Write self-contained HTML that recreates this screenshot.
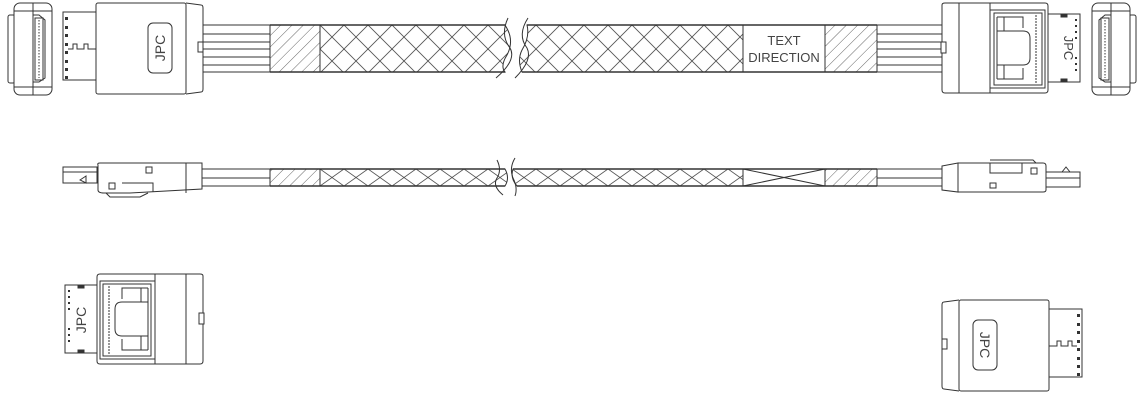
<!DOCTYPE html>
<html><head><meta charset="utf-8"><style>
html,body{margin:0;padding:0;background:#fff;}
svg{display:block;}
text{font-family:"Liberation Sans",sans-serif;fill:#444;}
</style></head><body>
<svg width="1147" height="400" viewBox="0 0 1147 400" xmlns="http://www.w3.org/2000/svg">
<defs>
<pattern id="hatch" width="8" height="8" patternUnits="userSpaceOnUse" patternTransform="rotate(45)">
<line x1="0" y1="0" x2="0" y2="8" stroke="#555" stroke-width="0.9"/>
</pattern>
<pattern id="xh" x="320" y="25" width="24" height="24" patternUnits="userSpaceOnUse">
<line x1="0" y1="0" x2="24" y2="24" stroke="#555" stroke-width="0.9"/>
<line x1="24" y1="0" x2="0" y2="24" stroke="#555" stroke-width="0.9"/>
</pattern>
<pattern id="xh2" x="320" y="169" width="24" height="17" patternUnits="userSpaceOnUse">
<line x1="0" y1="0" x2="24" y2="17" stroke="#555" stroke-width="0.9"/>
<line x1="24" y1="0" x2="0" y2="17" stroke="#555" stroke-width="0.9"/>
</pattern>
<g id="connA" fill="none" stroke="#333" stroke-width="1">
<rect x="63" y="12" width="33" height="68" fill="#fff"/>
<g fill="#333" stroke="none">
<rect x="65" y="17" width="3" height="3"/><rect x="65" y="26" width="3" height="3"/><rect x="65" y="34" width="3" height="3"/>
<rect x="65" y="43" width="3" height="3"/><rect x="65" y="51" width="3" height="3"/><rect x="65" y="60" width="3" height="3"/>
<rect x="65" y="68" width="3" height="3"/><rect x="65" y="76" width="3" height="3"/>
</g>
<path d="M68 49 H73 V44 H77 V49 H84 V44 H88 V49 H96"/>
<rect x="96" y="3" width="90" height="91" rx="2" fill="#fff"/>
<path d="M186 3 L201 5 Q203 5 203 8 V89 Q203 92 201 92 L186 94"/>
<rect x="198" y="42" width="5" height="10" fill="#fff"/>
<rect x="148" y="23" width="24" height="50" rx="5"/>
</g>
<g id="connB" fill="none" stroke="#333" stroke-width="1">
<rect x="1048" y="14" width="32" height="68" fill="#fff"/>
<rect x="1061" y="14" width="6" height="3" fill="#333"/><rect x="1061" y="79" width="6" height="3" fill="#333"/>
<g fill="#333" stroke="none">
<rect x="1075" y="19" width="2" height="2"/><rect x="1075" y="25" width="2" height="2"/><rect x="1075" y="31" width="2" height="2"/>
<rect x="1075" y="37" width="2" height="2"/><rect x="1075" y="57" width="2" height="2"/><rect x="1075" y="63" width="2" height="2"/>
<rect x="1075" y="69" width="2" height="2"/>
</g>
<path d="M942 5 Q942 3 945 3 H1045 Q1048 3 1048 6 V90 Q1048 93 1045 93 H945 Q942 93 942 90 Z" fill="#fff"/>
<line x1="959" y1="3" x2="959" y2="93"/>
<line x1="990" y1="3" x2="990" y2="93"/>
<rect x="990" y="10" width="55" height="78"/>
<rect x="994" y="13" width="48" height="72"/>
<line x1="1036" y1="15" x2="1036" y2="83" stroke-dasharray="2,1"/>
<path d="M997 17 H1023 V28 M997 31 H1023 Q1030 31 1030 38 V58 Q1030 65 1023 65 H997 M1023 68 V79 H997"/>
<line x1="997" y1="17" x2="997" y2="79"/>
<line x1="1004" y1="17" x2="1004" y2="31"/><line x1="1004" y1="65" x2="1004" y2="79"/>
<rect x="941" y="42" width="5" height="11" fill="#fff"/>
</g>
<g id="recep" fill="none" stroke="#333" stroke-width="1">
<rect x="8" y="15" width="7" height="68" rx="2"/>
<rect x="14" y="3" width="38" height="92" rx="6" fill="#fff"/>
<line x1="33" y1="3" x2="33" y2="95"/>
<line x1="14" y1="11" x2="52" y2="11"/><line x1="14" y1="87" x2="52" y2="87"/>
<path d="M33 15 H39 L45 20 V78 L39 82 H33"/>
<rect x="35" y="18" width="8" height="62"/>
<line x1="39" y1="20" x2="39" y2="78" stroke-dasharray="1.5,1.5"/>
</g>
</defs>

<g fill="none" stroke="#333" stroke-width="1">
<line x1="203" y1="25" x2="270" y2="25"/><line x1="203" y1="34" x2="270" y2="34"/><line x1="203" y1="42" x2="270" y2="42"/>
<line x1="203" y1="49" x2="270" y2="49"/><line x1="203" y1="57" x2="270" y2="57"/><line x1="203" y1="65" x2="270" y2="65"/><line x1="203" y1="72" x2="270" y2="72"/>
<line x1="877" y1="25" x2="942" y2="25"/><line x1="877" y1="34" x2="942" y2="34"/><line x1="877" y1="42" x2="942" y2="42"/>
<line x1="877" y1="49" x2="942" y2="49"/><line x1="877" y1="57" x2="942" y2="57"/><line x1="877" y1="65" x2="942" y2="65"/><line x1="877" y1="72" x2="942" y2="72"/>
<rect x="270" y="25" width="50" height="47" fill="url(#hatch)"/>
<path d="M320 25 H505 Q515 40 507 55 Q500 66 505 72 H320 Z" fill="url(#xh)"/>
<path d="M527 25 H743 V72 H522 Q517 60 522 50 Q530 37 527 25 Z" fill="url(#xh)"/>
<path d="M508 18 Q500 35 510 48 Q517 60 496 78"/>
<path d="M528 18 Q517 35 527 48 Q533 60 515 78"/>
<rect x="743" y="25" width="82" height="47" fill="#fff"/>
<rect x="825" y="25" width="52" height="47" fill="url(#hatch)"/>
<line x1="270" y1="25" x2="505" y2="25" stroke-width="1.5"/>
<line x1="270" y1="72" x2="505" y2="72" stroke-width="1.5"/>
<line x1="527" y1="25" x2="877" y2="25" stroke-width="1.5"/>
<line x1="522" y1="72" x2="877" y2="72" stroke-width="1.5"/>
</g>
<text x="784" y="45" font-size="13" text-anchor="middle">TEXT</text>
<text x="784" y="62" font-size="13" text-anchor="middle">DIRECTION</text>

<use href="#recep"/>
<use href="#connA"/>
<text transform="translate(165,48) rotate(-90)" font-size="14" text-anchor="middle">JPC</text>
<use href="#connB"/>
<text transform="translate(1064,48) rotate(90)" font-size="13" text-anchor="middle">JPC</text>
<use href="#recep" transform="translate(1144,0) scale(-1,1)"/>

<g fill="none" stroke="#333" stroke-width="1">
<line x1="202" y1="169" x2="270" y2="169"/><line x1="202" y1="178" x2="270" y2="178"/><line x1="202" y1="186" x2="270" y2="186"/>
<line x1="877" y1="169" x2="942" y2="169"/><line x1="877" y1="178" x2="942" y2="178"/><line x1="877" y1="186" x2="942" y2="186"/>
<rect x="270" y="169" width="50" height="17" fill="url(#hatch)"/>
<path d="M320 169 H505 Q510 178 505 186 H320 Z" fill="url(#xh2)"/>
<path d="M513 169 H743 V186 H517 Q510 178 513 169 Z" fill="url(#xh2)"/>
<path d="M497 160 Q502 170 497 178 Q492 186 503 195"/>
<path d="M515 158 Q509 168 513 178 Q518 188 515 196"/>
<rect x="743" y="169" width="82" height="17"/>
<path d="M743 169 L825 186 M825 169 L743 186"/>
<rect x="825" y="169" width="52" height="17" fill="url(#hatch)"/>
<line x1="270" y1="169" x2="505" y2="169" stroke-width="1.5"/>
<line x1="270" y1="186" x2="505" y2="186" stroke-width="1.5"/>
<line x1="513" y1="169" x2="877" y2="169" stroke-width="1.5"/>
<line x1="517" y1="186" x2="877" y2="186" stroke-width="1.5"/>
<rect x="63" y="167" width="34" height="16"/>
<line x1="63" y1="172" x2="97" y2="172"/>
<path d="M80 180 L86 176 V183 Z"/>
<path d="M98 165 Q97 163 100 163 H202 V189 L130 193 H104 Q98 193 98 190 Z" fill="#fff"/>
<line x1="186" y1="163" x2="186" y2="193"/>
<rect x="146" y="167" width="6" height="6"/>
<rect x="109" y="183" width="6" height="6"/>
<path d="M122 183 H153 V192"/>
<path d="M106 193 L110 197 H140 L148 193"/>
<path d="M942 166 L958 163 V192 L942 190 Z" fill="#fff"/>
<path d="M958 163 H1043 Q1046 163 1046 166 V190 Q1046 192 1043 192 H958 Z" fill="#fff"/>
<path d="M990 163 V173 H1022 V163 M1022 160 H1033 L1036 163"/>
<line x1="990" y1="160" x2="1033" y2="160"/>
<rect x="1031" y="168" width="6" height="6"/>
<rect x="990" y="183" width="6" height="5"/>
<rect x="1046" y="172" width="34" height="15"/>
<line x1="1046" y1="178" x2="1080" y2="178"/>
<path d="M1062 172 L1066 167 L1070 172"/>
</g>

<use href="#connB" transform="translate(1145,271) scale(-1,1)"/>
<text transform="translate(86,320) rotate(-90)" font-size="14" text-anchor="middle">JPC</text>
<use href="#connA" transform="translate(1145,297) scale(-1,1)"/>
<text transform="translate(980,345) rotate(90)" font-size="14" text-anchor="middle">JPC</text>
</svg>
</body></html>
